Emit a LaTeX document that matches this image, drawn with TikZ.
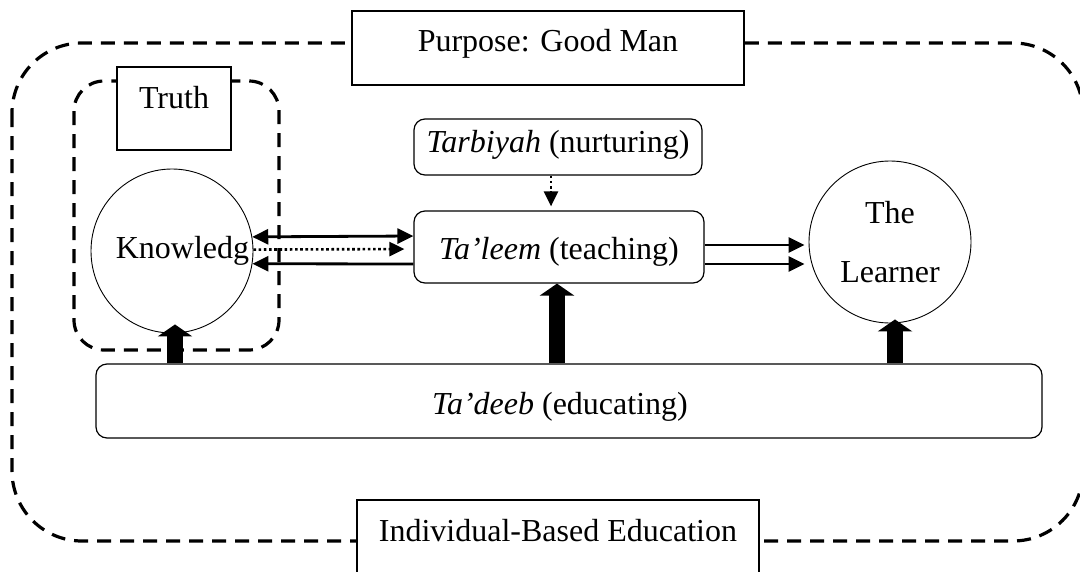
\documentclass[tikz,border=0pt]{standalone}
\usepackage{fontspec}
\setmainfont{Liberation Serif}
\usetikzlibrary{arrows.meta,shapes.geometric}
\begin{document}
\begin{tikzpicture}[x=1pt,y=-1pt,
  font=\fontsize{32}{38}\selectfont,
  dashframe/.style={line width=3.2pt, dash pattern=on 14pt off 9pt},
  plainbox/.style={draw, line width=1.6pt, fill=white, inner sep=0pt},
  softbox/.style={draw, line width=1.2pt, fill=white, rounded corners=11pt, inner sep=0pt},
  bubble/.style={draw, ellipse, line width=0.9pt, inner sep=0pt},
  thintip/.style={line width=2.8pt},
  link/.style={thintip, -{Triangle[width=15pt,length=16pt]}},
  duallink/.style={thintip, {Triangle[width=15pt,length=16pt]}-{Triangle[width=15pt,length=16pt]}},
  dotlink/.style={line width=2.6pt, dash pattern=on 2.6pt off 2.6pt, -{Triangle[width=14pt,length=15pt]}},
  blockarrow/.style={line width=15.5pt, -{Triangle[width=34pt,length=12pt]}},
]
\useasboundingbox (0,0) rectangle (1080,571);
\clip (0,0) rectangle (1080,571);

% dashed frames
\draw[dashframe, rounded corners=70pt] (12,43) rectangle (1083,541);
\draw[dashframe, rounded corners=30pt] (74,81) rectangle (279,350);

% boxes
\node[plainbox, minimum width=392pt, minimum height=74pt, text height=20pt, text depth=14pt]
  (purpose) at (548,48) {Purpose: Good Man};
\node[plainbox, minimum width=402pt, minimum height=100pt, text height=20pt, text depth=38pt]
  (indiv) at (558,550) {Individual-Based Education};
\node[plainbox, minimum width=114pt, minimum height=83pt, text height=20pt, text depth=21pt]
  (truth) at (174,108.5) {Truth};

\node[softbox, minimum width=288pt, minimum height=56pt, text height=20pt, text depth=10pt]
  (tarbiyah) at (558,147) {\textit{Tarbiyah} (nurturing)};
\node[softbox, minimum width=290pt, minimum height=72pt, text height=25pt, text depth=1pt]
  (taleem) at (559,247) {\textit{Ta’leem} (teaching)};
\node[softbox, minimum width=946pt, minimum height=74pt, text height=26pt, text depth=0pt]
  (tadeeb) at (569,401) {\hspace*{-18pt}\textit{Ta’deeb} (educating)};

\node[bubble, minimum width=162pt, minimum height=164pt, text height=21pt, text depth=7pt]
  (know) at (172,251) {Knowledg\hspace*{-21pt}};
\node[bubble, minimum width=162pt, minimum height=162pt, align=center]
  (learner) at (890,242) {The\\[21pt]Learner};

% connectors
\draw[duallink] (know.10.5) -- ([yshift=11pt]taleem.west);
\draw[dotlink, shorten >=9pt] (know.1.4) -- ([yshift=-2pt]taleem.west);
\draw[link] ([yshift=-17pt]taleem.west) -- (know.-9.1);

\draw[dotlink, shorten >=4pt] ([xshift=-7pt]tarbiyah.south) -- ([xshift=-7pt]tarbiyah.south |- taleem.north);

\draw[link, shorten >=4pt] ([yshift=2pt]taleem.east) -- ([yshift=2pt]taleem.east -| learner.west);
\draw[link, shorten >=4pt] ([yshift=-17pt]taleem.east) -- ([yshift=-17pt]taleem.east -| learner.west);

\draw[blockarrow] ([xshift=3pt]know.south |- tadeeb.north) -- ([xshift=3pt,yshift=9pt]know.south);
\draw[blockarrow] ([xshift=-2pt]taleem.south |- tadeeb.north) -- ([xshift=-2pt]taleem.south);
\draw[blockarrow] ([xshift=5pt]learner.south |- tadeeb.north) -- ([xshift=5pt,yshift=4pt]learner.south);
\end{tikzpicture}
\end{document}
